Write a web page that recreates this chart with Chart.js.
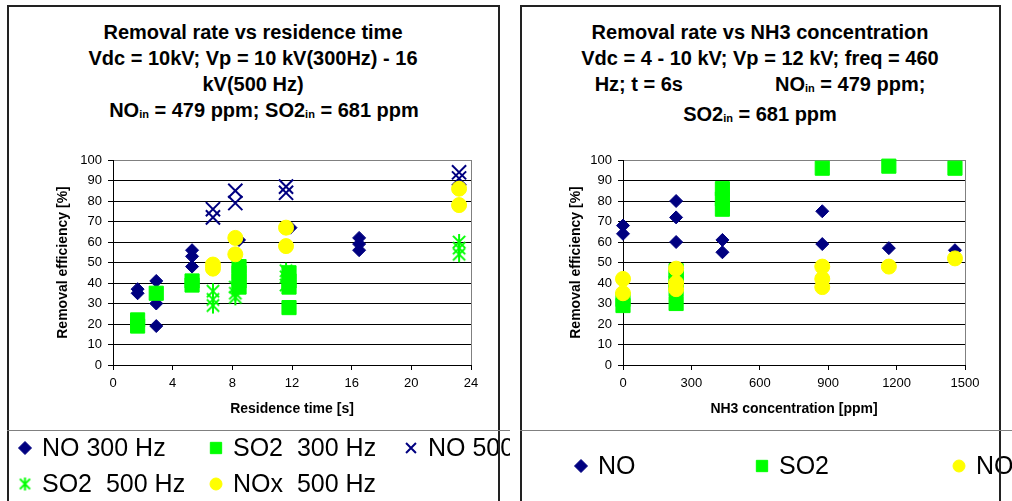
<!DOCTYPE html>
<html>
<head>
<meta charset="utf-8">
<script src="https://cdn.jsdelivr.net/npm/chart.js@4.4.0/dist/chart.umd.min.js"></script>
<style>
body { margin:0; background:#fff; font-family:"Liberation Sans", Arial, sans-serif; }
#page { position:relative; width:1012px; height:501px; overflow:hidden; }
.box { position:absolute; top:5px; height:520px; border:2px solid #222; box-sizing:border-box; pointer-events:none; z-index:2; }
.title { position:absolute; top:19px; font-weight:bold; font-size:20px; line-height:26px; text-align:center; color:#000; white-space:nowrap; }
.title .s { font-size:11px; vertical-align:-1px; }
.sep { position:absolute; top:430px; height:1px; background:#808080; z-index:2; }
canvas { position:absolute; top:130px; z-index:1; }
</style>
</head>
<body>
<div id="page">
	<div class="title" style="left:7px;width:492px">
		Removal rate vs residence time<br>
		Vdc = 10kV; Vp = 10 kV(300Hz) - 16<br>
		kV(500 Hz)<br>
		<span style="display:inline-block;width:22px"></span>NO<span class="s">in</span> = 479 ppm; SO2<span class="s">in</span> = 681 ppm
	</div>
	<div class="title" style="left:520px;width:480px">
		Removal rate vs NH3 concentration<br>
		Vdc = 4 - 10 kV; Vp = 12 kV; freq = 460<br>
		Hz; t = 6s<span style="display:inline-block;width:92px"></span>NO<span class="s">in</span> = 479 ppm;<br>
		SO2<span class="s">in</span> = 681 ppm
	</div>
	<canvas id="chartTime" width="503" height="371" style="left:7px;width:503px;height:371px"></canvas>
	<canvas id="chartNh3" width="492" height="371" style="left:520px;width:492px;height:371px"></canvas>
	<div class="box" style="left:7px;width:493px"></div>
	<div class="box" style="left:520px;width:481px"></div>
	<div class="sep" style="left:7px;width:503px"></div>
	<div class="sep" style="left:520px;width:492px"></div>
</div>
<script>
// residence time chart
var timeNo300 = [1.65, 1.65, 2.9, 2.9, 2.9, 5.3, 5.3, 5.3, 8.45, 11.9, 16.5, 16.5, 16.5];
var effNo300 = [37, 35, 41, 30, 19, 56, 53, 48, 61, 67, 62, 59, 56];
var timeSo2300 = [1.65, 1.65, 2.9, 5.3, 5.3, 8.45, 8.45, 8.45, 8.45, 11.8, 11.8, 11.8, 11.8];
var effSo2300 = [22, 19, 35, 41, 39, 48, 45, 41, 38, 45, 41, 38, 28];
var timeNo500 = [6.7, 6.7, 8.2, 8.2, 11.6, 11.6, 23.2, 23.2];
var effNo500 = [76, 72, 85, 79, 87, 84, 94, 91];
var timeSo2500 = [6.7, 6.7, 6.7, 8.2, 8.2, 8.2, 11.6, 11.6, 11.6, 23.2, 23.2, 23.2];
var effSo2500 = [36, 32, 29, 38, 35, 33, 46, 43, 39, 60, 57, 54];
var timeNox500 = [6.7, 6.7, 8.2, 8.2, 11.6, 11.6, 23.2, 23.2];
var effNox500 = [49, 47, 62, 54, 67, 58, 86, 78];

// NH3 chart
var nh3No = [0, 0, 233, 233, 233, 436, 436, 874, 874, 1166, 1456];
var effNo = [68, 64, 80, 72, 60, 61, 55, 75, 59, 57, 56];
var nh3So2 = [0, 0, 233, 233, 233, 233, 233, 436, 436, 436, 874, 1166, 1456];
var effSo2 = [32, 29, 46, 43, 40, 37, 30, 86, 81, 76, 96, 97, 96];
var nh3Nox = [0, 0, 233, 233, 233, 874, 874, 874, 1166, 1456];
var effNox = [42, 35, 47, 40, 37, 48, 42, 38, 48, 52];

var timeTicks = [0, 24, 4];
var nh3Ticks = [0, 1500, 300];
var effTicks = [0, 100, 10];

var NAVY = '#000080', GREEN = '#00FF00', YELLOW = '#FFFF00';
var FONT = '"Liberation Sans", Arial, sans-serif';

// 6-arm asterisk marker (X plus vertical bar)
function asterisk(size, color){
	var c = document.createElement('canvas');
	c.width = size; c.height = size;
	var g = c.getContext('2d');
	var m = size / 2, d = size * 0.34;
	g.strokeStyle = color;
	g.lineWidth = 2;
	g.beginPath();
	g.moveTo(m, 1); g.lineTo(m, size - 1);
	g.moveTo(m - d, m - d); g.lineTo(m + d, m + d);
	g.moveTo(m + d, m - d); g.lineTo(m - d, m + d);
	g.stroke();
	return c;
}
var starBig = asterisk(18, GREEN);
var starSmall = asterisk(15, GREEN);

function pts(xs, ys){
	return xs.map(function(x, i){ return {x: x, y: ys[i]}; });
}

function series(label, xs, ys, color, style, r, bw, order){
	return {
		label: label,
		data: pts(xs, ys),
		backgroundColor: color,
		borderColor: color,
		borderWidth: bw,
		pointStyle: style,
		pointRadius: r,
		pointHoverRadius: r,
		order: order,
		clip: false
	};
}

// legend in fixed columns, like the spreadsheet one
var colLegend = {
	id: 'colLegend',
	afterDraw: function(chart, args, opts){
		var ctx = chart.ctx;
		ctx.save();
		chart.data.datasets.forEach(function(ds, i){
			var col = i % opts.cols.length, row = Math.floor(i / opts.cols.length);
			var x = opts.cols[col], y = opts.rows[row];
			ctx.fillStyle = ds.backgroundColor;
			ctx.strokeStyle = ds.borderColor;
			ctx.lineWidth = ds.borderWidth;
			if (ds.pointStyle === starBig) {
				ctx.drawImage(starSmall, x - 7.5, y - 7.5);
			} else {
				Chart.helpers.drawPoint(ctx, {pointStyle: ds.pointStyle, radius: opts.radius[ds.pointStyle], rotation: 0, borderWidth: ds.borderWidth}, x, y);
			}
			ctx.fillStyle = '#000';
			ctx.font = '25px ' + FONT;
			ctx.textBaseline = 'middle';
			ctx.textAlign = 'left';
			ctx.fillText(ds.label, x + 17, y + 1);
		});
		ctx.restore();
	}
};

function axes(xt, xTitle, yWidth){
	return {
		x: {
			type: 'linear', min: xt[0], max: xt[1],
			ticks: {stepSize: xt[2], color: '#000', font: {size: 13, family: FONT}, padding: 6, maxRotation: 0, format: {useGrouping: false}},
			grid: {
				color: function(c){ return c.tick && c.tick.value === xt[1] ? '#808080' : 'rgba(0,0,0,0)'; },
				tickColor: '#000', tickLength: 5
			},
			border: {color: '#000', width: 1},
			title: {display: true, text: xTitle, color: '#000', font: {size: 14, weight: 'bold', family: FONT}, padding: {top: 4, bottom: 4}},
			afterFit: function(s){ s.height = 57; }
		},
		y: {
			min: effTicks[0], max: effTicks[1],
			ticks: {stepSize: effTicks[2], color: '#000', font: {size: 13, family: FONT}, padding: 6},
			grid: {
				color: function(c){ return c.tick && c.tick.value === effTicks[1] ? '#808080' : '#000'; },
				tickColor: '#000', tickLength: 5
			},
			border: {color: '#000', width: 1},
			title: {display: true, text: 'Removal efficiency [%]', color: '#000', font: {size: 14, weight: 'bold', family: FONT}, padding: {top: 4, bottom: 4}},
			afterFit: function(s){ s.width = yWidth; }
		}
	};
}

var legendRadius = {rectRot: 6.5, rect: 8, crossRot: 7, circle: 6};

new Chart(document.getElementById('chartTime').getContext('2d'), {
	type: 'scatter',
	data: {
		datasets: [
			series('NO 300 Hz', timeNo300, effNo300, NAVY, 'rectRot', 6.5, 1, 4),
			series('SO2  300 Hz', timeSo2300, effSo2300, GREEN, 'rect', 10, 1, 3),
			series('NO 500 Hz', timeNo500, effNo500, NAVY, 'crossRot', 10, 2, 2),
			series('SO2  500 Hz', timeSo2500, effSo2500, GREEN, starBig, 9, 2, 1),
			series('NOx  500 Hz', timeNox500, effNox500, YELLOW, 'circle', 7.5, 1, 0)
		]
	},
	options: {
		responsive: false,
		animation: false,
		devicePixelRatio: 1,
		layout: {padding: {left: 44, right: 39, top: 30, bottom: 79}},
		scales: axes(timeTicks, 'Residence time [s]', 62),
		plugins: {
			legend: {display: false},
			tooltip: {enabled: false},
			colLegend: {cols: [18, 209, 404], rows: [318, 354], radius: legendRadius}
		}
	},
	plugins: [colLegend]
});

new Chart(document.getElementById('chartNh3').getContext('2d'), {
	type: 'scatter',
	data: {
		datasets: [
			series('NO', nh3No, effNo, NAVY, 'rectRot', 6.5, 1, 2),
			series('SO2', nh3So2, effSo2, GREEN, 'rect', 10, 1, 1),
			series('NOx', nh3Nox, effNox, YELLOW, 'circle', 7.5, 1, 0)
		]
	},
	options: {
		responsive: false,
		animation: false,
		devicePixelRatio: 1,
		layout: {padding: {left: 44, right: 47, top: 30, bottom: 79}},
		scales: axes(nh3Ticks, 'NH3 concentration [ppm]', 59),
		plugins: {
			legend: {display: false},
			tooltip: {enabled: false},
			colLegend: {cols: [61, 242, 439], rows: [336], radius: legendRadius}
		}
	},
	plugins: [colLegend]
});
</script>
</body>
</html>
